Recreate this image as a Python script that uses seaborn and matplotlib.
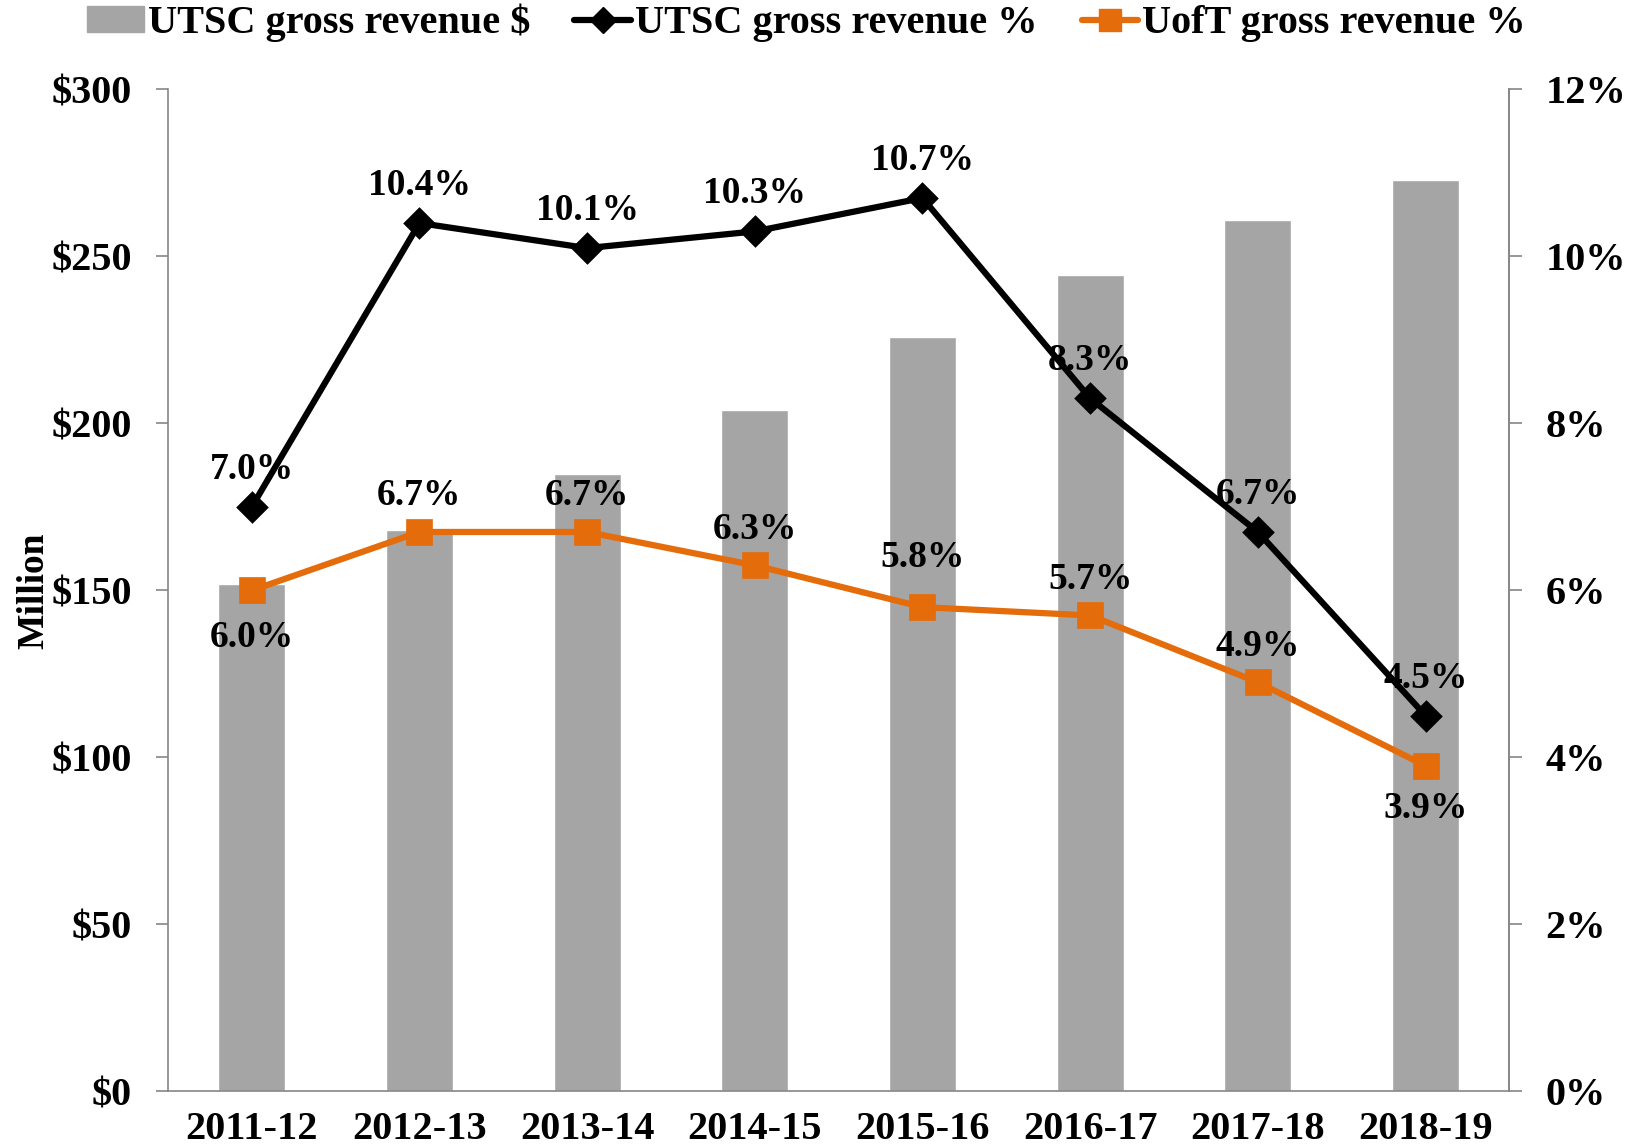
import numpy as np
import pandas as pd
import seaborn as sns
import matplotlib.pyplot as plt
from matplotlib.lines import Line2D
from matplotlib.patches import Patch
from matplotlib.ticker import FuncFormatter, FixedLocator

years = ["2011-12", "2012-13", "2013-14", "2014-15", "2015-16", "2016-17", "2017-18", "2018-19"]
utsc_rev = [152, 168, 185, 204, 226, 244.5, 261, 273]
utsc_pct = [7.0, 10.4, 10.1, 10.3, 10.7, 8.3, 6.7, 4.5]
uoft_pct = [6.0, 6.7, 6.7, 6.3, 5.8, 5.7, 4.9, 3.9]

# label placement (points, vertical offset from the marker)
utsc_off = [27, 27, 27, 27, 27, 27, 27, 27]
uoft_off = [-34, 26, 26, 26, 36, 26, 26, -31]

sns.set_style("white")
plt.rcParams['font.family'] = ['Liberation Serif', 'DejaVu Serif']
plt.rcParams['font.weight'] = 'bold'
plt.rcParams['text.color'] = 'black'
plt.rcParams['xtick.color'] = 'black'
plt.rcParams['ytick.color'] = 'black'
plt.rcParams['axes.labelcolor'] = 'black'

GRAY = "#a5a5a5"
ORANGE = "#e46c0a"
AXC = "#868686"

df = pd.DataFrame({"year": years, "rev": utsc_rev, "utsc": utsc_pct, "uoft": uoft_pct})

fig, ax = plt.subplots(figsize=(16.46, 11.47), dpi=100)
fig.subplots_adjust(left=0.102, right=0.917, top=0.922, bottom=0.0485)

sns.barplot(data=df, x="year", y="rev", color=GRAY, width=0.4, saturation=1, ax=ax)
ax.set_ylim(0, 300)
ax.set_xlim(-0.5, 7.5)
ax.set_yticks(range(0, 301, 50))
ax.yaxis.set_major_formatter(FuncFormatter(lambda v, p: f"${v:.0f}"))
ax.set_xlabel("")
ax.set_ylabel("Million", fontsize=27, fontweight='bold', labelpad=0)

ax2 = ax.twinx()
sns.pointplot(data=df, x="year", y="uoft", color=ORANGE, markers="s", markersize=16,
              linewidth=4.5, errorbar=None, ax=ax2)
sns.pointplot(data=df, x="year", y="utsc", color="black", markers="D", markersize=13,
              linewidth=4.5, errorbar=None, ax=ax2)
ax2.set_ylim(0, 12)
ax2.set_xlim(-0.5, 7.5)
ax2.set_yticks(range(0, 13, 2))
ax2.yaxis.set_major_formatter(FuncFormatter(lambda v, p: f"{v:.0f}%"))
ax2.set_ylabel("")
ax2.set_xlabel("")

for i, v in enumerate(utsc_pct):
    ax2.annotate(f"{v:.1f}%", (i, v), xytext=(0, utsc_off[i]), textcoords="offset points",
                 ha="center", va="center", fontsize=27, fontweight='bold', zorder=5)
for i, v in enumerate(uoft_pct):
    ax2.annotate(f"{v:.1f}%", (i, v), xytext=(0, uoft_off[i]), textcoords="offset points",
                 ha="center", va="center", fontsize=27, fontweight='bold', zorder=5)

# x ticks: marks on category boundaries, labels in the centres
ax.xaxis.set_major_locator(FixedLocator(np.arange(-0.5, 8, 1)))
ax.xaxis.set_minor_locator(FixedLocator(np.arange(0, 8)))
ax.set_xticklabels([])
ax.set_xticklabels(years, minor=True)
ax.tick_params(axis="x", which="major", length=12, width=1.2, color=AXC, direction="out")
ax.tick_params(axis="x", which="minor", length=0, pad=14, labelsize=29)
ax2.tick_params(axis="x", which="both", bottom=False, labelbottom=False)

ax.tick_params(axis="y", length=9, width=1.2, color=AXC, direction="out", labelsize=29, pad=17)
ax2.tick_params(axis="y", length=9, width=1.2, color=AXC, direction="out", labelsize=29, pad=17)
for lab in ax.get_yticklabels() + ax2.get_yticklabels() + ax.get_xticklabels(minor=True):
    lab.set_fontweight('bold')

for a in (ax, ax2):
    a.spines["top"].set_visible(False)
    for s in ("left", "right", "bottom"):
        a.spines[s].set_color(AXC)
        a.spines[s].set_linewidth(1.2)
ax2.spines["left"].set_visible(False)
ax2.spines["bottom"].set_visible(False)

handles = [
    Patch(facecolor=GRAY, edgecolor=GRAY),
    Line2D([0], [0], color="black", lw=4.5, marker="D", markersize=13),
    Line2D([0], [0], color=ORANGE, lw=4.5, marker="s", markersize=16),
]
labels = ["UTSC gross revenue $", "UTSC gross revenue %", "UofT gross revenue %"]
fig.legend(handles, labels, loc="center", bbox_to_anchor=(0.49, 0.98), ncol=3,
           frameon=False, handlelength=1.4, handletextpad=0.1, handleheight=0.6,
           columnspacing=1.1, prop={'weight': 'bold', 'size': 29})

fig.savefig("out.png", dpi=100)
